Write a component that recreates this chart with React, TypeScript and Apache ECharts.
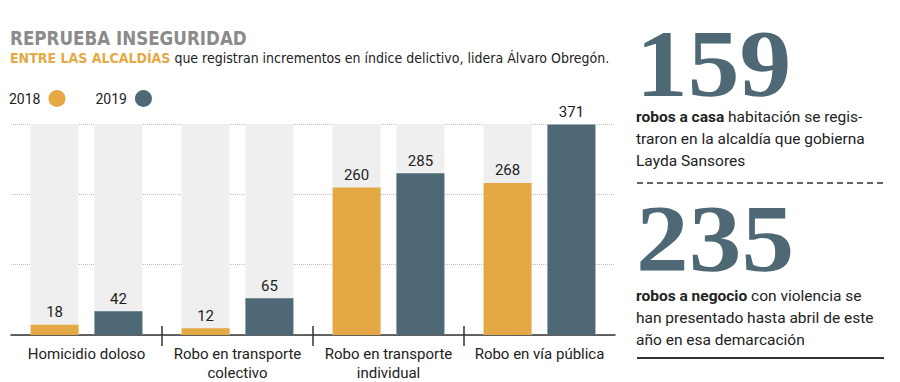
import React, { useEffect, useRef } from 'react';
import * as echarts from 'echarts';

const categories = [
  'Homicidio doloso',
  'Robo en transporte\ncolectivo',
  'Robo en transporte\nindividual',
  'Robo en vía pública',
];
const years = ['2018', '2019'];
const values2018 = [18, 12, 260, 268];
const values2019 = [42, 65, 285, 371];
const yMax = 372;
const yInterval = 124;

const titleText = 'REPRUEBA INSEGURIDAD';
const subtitleLead = 'ENTRE LAS ALCALDÍAS';
const subtitleRest = ' que registran incrementos en índice delictivo, lidera Álvaro Obregón.';

const stat1Number = '159';
const stat1Bold = 'robos a casa';
const stat1Lines = [' habitación se regis-', 'traron en la alcaldía que gobierna', 'Layda Sansores'];
const stat2Number = '235';
const stat2Bold = 'robos a negocio';
const stat2Lines = [' con violencia se', 'han presentado hasta abril de este', 'año en esa demarcación'];

const ORANGE = '#E4A945';
const SLATE = '#4E6876';
const NARROW = '"Liberation Sans Narrow", "DejaVu Sans Condensed", "Roboto", sans-serif';
const SANS = 'Roboto, "Liberation Sans", sans-serif';
const SERIF = '"Liberation Serif", "DejaVu Serif", serif';

export default function App() {
  const ref = useRef<HTMLDivElement>(null);
  useEffect(() => {
    if (!ref.current) return;
    const chart = echarts.init(ref.current, undefined, { renderer: 'svg' });
    const labelStyle = { show: true, position: 'top', distance: 5, fontSize: 15, color: '#222', fontFamily: SANS };
    const statText = (bold: string, lines: string[]) =>
      '{b|' + bold + '}' + lines[0] + '\n' + lines.slice(1).join('\n');
    const statStyle = (bold: string, lines: string[]) => ({
      text: statText(bold, lines),
      fill: '#222',
      fontSize: 15.5,
      fontFamily: SANS,
      lineHeight: 22,
      verticalAlign: 'top',
      rich: { b: { fontWeight: 'bold', fontSize: 15.5, fontFamily: SANS, lineHeight: 22, fill: '#222' } },
    });
    chart.setOption({
      animation: false,
      backgroundColor: '#ffffff',
      textStyle: { fontFamily: SANS },
      legend: {
        data: years,
        left: 9,
        top: 90,
        padding: 0,
        align: 'right',
        icon: 'circle',
        itemWidth: 17,
        itemHeight: 17,
        itemGap: 30,
        textStyle: { fontSize: 14, color: '#222', fontFamily: SANS, padding: [0, 3, 0, 0] },
      },
      grid: [
        { left: 11, right: 285, top: 124, bottom: 46 },
        { left: 11, right: 285, top: 326, height: 20 },
      ],
      xAxis: [
        {
          type: 'category',
          data: categories,
          gridIndex: 0,
          axisLine: { lineStyle: { color: '#333', width: 1.5 } },
          axisTick: { show: false },
          axisLabel: { interval: 0, fontSize: 15, lineHeight: 19, color: '#222', margin: 9, fontFamily: SANS },
        },
        {
          type: 'category',
          data: categories,
          gridIndex: 1,
          axisLine: { show: false },
          axisTick: { show: false },
          axisLabel: { show: false },
          splitLine: { show: true, showMinLine: false, showMaxLine: false, lineStyle: { color: '#333', width: 1.5 } },
        },
      ],
      yAxis: [
        {
          type: 'value',
          gridIndex: 0,
          min: 0,
          max: yMax,
          interval: yInterval,
          axisLabel: { show: false },
          axisLine: { show: false },
          axisTick: { show: false },
          splitLine: { lineStyle: { type: 'dotted', color: '#bdbdbd', width: 1 } },
        },
        { type: 'value', gridIndex: 1, show: false, splitLine: { show: false } },
      ],
      series: [
        {
          name: years[0],
          type: 'bar',
          data: values2018,
          barWidth: 48,
          barGap: '33%',
          itemStyle: { color: ORANGE },
          showBackground: true,
          backgroundStyle: { color: '#efefef' },
          label: labelStyle,
        },
        {
          name: years[1],
          type: 'bar',
          data: values2019,
          barWidth: 48,
          barGap: '33%',
          itemStyle: { color: SLATE },
          showBackground: true,
          backgroundStyle: { color: '#efefef' },
          label: labelStyle,
        },
      ],
      graphic: [
        {
          type: 'text',
          x: 10,
          y: 38.5,
          scaleX: 0.93,
          style: { text: titleText, fill: '#8b8b8b', font: 'bold 20px ' + NARROW, verticalAlign: 'middle' },
        },
        {
          type: 'text',
          x: 10,
          y: 57.5,
          style: {
            text: '{o|' + subtitleLead + '}' + subtitleRest,
            fill: '#222',
            font: '14px ' + NARROW,
            verticalAlign: 'middle',
            rich: { o: { fill: ORANGE, fontWeight: 'bold', fontSize: 14, fontFamily: NARROW } },
          },
        },
        {
          type: 'text',
          x: 636,
          y: 63,
          scaleX: 1.09,
          style: { text: stat1Number, fill: SLATE, font: 'bold 95px ' + SERIF, lineHeight: 70, verticalAlign: 'middle' },
        },
        {
          type: 'text',
          x: 636,
          y: 106,
          style: statStyle(stat1Bold, stat1Lines),
        },
        {
          type: 'line',
          shape: { x1: 637, y1: 183, x2: 884, y2: 183 },
          style: { stroke: '#333', lineWidth: 1.5, lineDash: [6, 4] },
        },
        {
          type: 'text',
          x: 636,
          y: 239,
          scaleX: 1.11,
          style: { text: stat2Number, fill: SLATE, font: 'bold 95px ' + SERIF, lineHeight: 70, verticalAlign: 'middle' },
        },
        {
          type: 'text',
          x: 636,
          y: 285,
          style: statStyle(stat2Bold, stat2Lines),
        },
        {
          type: 'line',
          shape: { x1: 637, y1: 358, x2: 884, y2: 358 },
          style: { stroke: '#333', lineWidth: 2 },
        },
      ],
    });
    return () => chart.dispose();
  }, []);
  return (
    <div
      ref={ref}
      style={{ position: 'fixed', left: 0, top: 0, width: 900, height: 382, background: '#fff' }}
    />
  );
}
